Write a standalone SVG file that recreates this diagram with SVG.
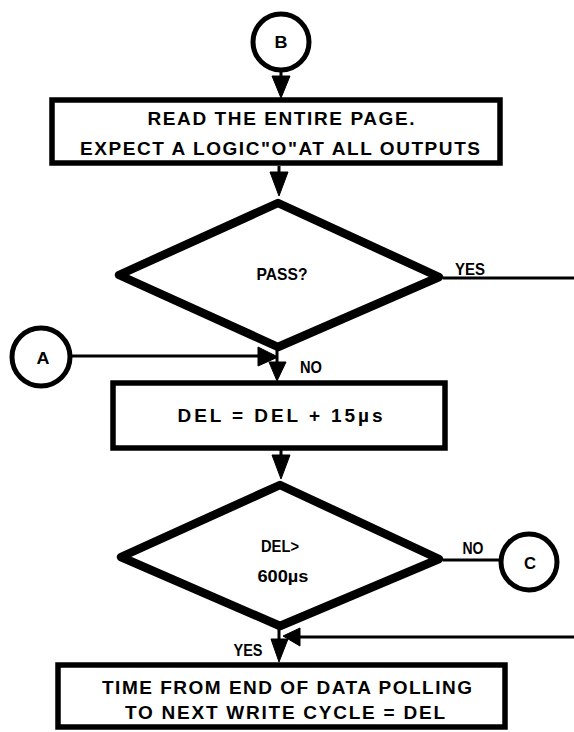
<svg xmlns="http://www.w3.org/2000/svg" width="574" height="732" viewBox="0 0 574 732">
<style>
.t{font-family:"Liberation Sans",Arial,sans-serif;font-weight:bold;font-size:19px;fill:#000;text-anchor:middle}
.s{font-size:17px}
.box{fill:#fff;stroke:#000;stroke-width:5.5}
.dia{fill:#fff;stroke:#000;stroke-width:8.5;stroke-linejoin:round}
.circ{fill:#fff;stroke:#000;stroke-width:5}
.ln{fill:none;stroke:#000;stroke-width:3}
.ah{fill:#000;stroke:#000;stroke-width:1;stroke-linejoin:round}
</style>
<rect width="574" height="732" fill="#fff"/>
<g id="connectors">
<line class="ln" x1="281" y1="70" x2="281" y2="80"/>
<polygon class="ah" points="272,76 290,76 281,98"/>
<line class="ln" x1="279" y1="166" x2="279" y2="174"/>
<polygon class="ah" points="270,172 288,172 279,196"/>
<line class="ln" x1="443" y1="278" x2="574" y2="278"/>
<line class="ln" x1="70" y1="356" x2="262" y2="356"/>
<polygon class="ah" points="258,347 258,366 278,357"/>
<line class="ln" x1="277" y1="350" x2="277" y2="364"/>
<polygon class="ah" points="269,362 286,362 277,381"/>
<line class="ln" x1="281" y1="450" x2="281" y2="458"/>
<polygon class="ah" points="272,455 290,455 281,479"/>
<line class="ln" x1="443" y1="560" x2="502" y2="560"/>
<line class="ln" x1="279" y1="627" x2="279" y2="642"/>
<polygon class="ah" points="271,639 288,639 279,662"/>
<line class="ln" x1="298" y1="637" x2="574" y2="637"/>
<polygon class="ah" points="300,628 300,646 283,636"/>
</g>
<g id="nodeB">
<circle class="circ" cx="281" cy="42" r="28"/>
<text class="t s" x="281" y="48" textLength="13" lengthAdjust="spacingAndGlyphs">B</text>
</g>
<g id="box1">
<rect class="box" x="52" y="100" width="448" height="63"/>
<text class="t" x="281" y="125" textLength="267" lengthAdjust="spacing">READ THE ENTIRE PAGE.</text>
<text class="t" x="280" y="155" textLength="400" lengthAdjust="spacing">EXPECT A LOGIC"O"AT ALL OUTPUTS</text>
</g>
<g id="diamond1">
<polygon class="dia" points="278,203 439,277 278,347 119,275"/>
<text class="t s" x="282" y="280" textLength="51" lengthAdjust="spacingAndGlyphs">PASS?</text>
</g>
<g id="nodeA">
<circle class="circ" cx="41" cy="357" r="29"/>
<text class="t s" x="43" y="364" textLength="13" lengthAdjust="spacingAndGlyphs">A</text>
</g>
<g id="box2">
<rect class="box" x="113" y="383" width="332" height="65"/>
<text class="t" x="280" y="422" textLength="205" lengthAdjust="spacing">DEL = DEL + 15µs</text>
</g>
<g id="diamond2">
<polygon class="dia" points="280,485 439,559 280,626 121,557"/>
<text class="t s" x="280" y="552" textLength="38" lengthAdjust="spacingAndGlyphs">DEL&gt;</text>
<text class="t s" x="283" y="582" textLength="51" lengthAdjust="spacingAndGlyphs">600µs</text>
</g>
<g id="nodeC">
<circle class="circ" cx="529" cy="562" r="28"/>
<text class="t s" x="530" y="569" textLength="12" lengthAdjust="spacingAndGlyphs">C</text>
</g>
<g id="box3">
<rect class="box" x="58" y="665" width="447" height="62"/>
<text class="t" x="287" y="694" textLength="370" lengthAdjust="spacing">TIME FROM END OF DATA POLLING</text>
<text class="t" x="285" y="719" textLength="320" lengthAdjust="spacing">TO NEXT WRITE CYCLE = DEL</text>
</g>
<g id="labels">
<text class="t s" x="470" y="275" textLength="30" lengthAdjust="spacingAndGlyphs">YES</text>
<text class="t s" x="311" y="373" textLength="22" lengthAdjust="spacingAndGlyphs">NO</text>
<text class="t s" x="473" y="554" textLength="21" lengthAdjust="spacingAndGlyphs">NO</text>
<text class="t s" x="248" y="656" textLength="29" lengthAdjust="spacingAndGlyphs">YES</text>
</g>
</svg>
